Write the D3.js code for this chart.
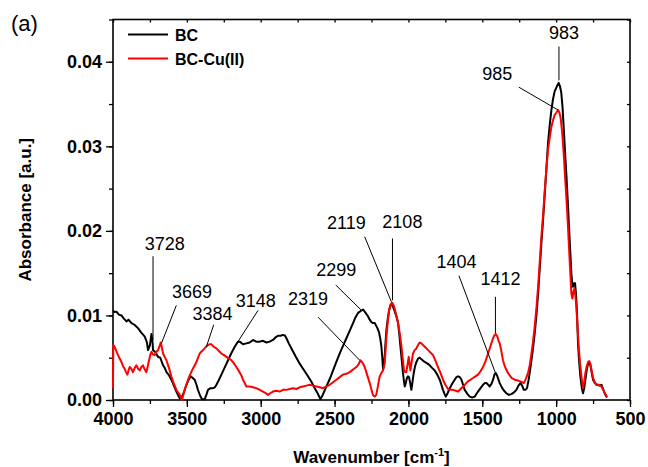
<!DOCTYPE html>
<html>
<head>
<meta charset="utf-8">
<script src="https://cdn.jsdelivr.net/npm/d3@7/dist/d3.min.js"></script>
<style>
  body { margin: 0; background: #fff; }
  svg { font-family: Arial, "Liberation Sans", sans-serif; }
</style>
</head>
<body>
<div id="chart"></div>
<script>
// ---- data ----
var bcWave = [4000,3990,3977,3960,3943,3925,3909,3895,3875,3855,3831,3810,3785,3770,3763,3750,3740,3733,3729,3715,3695,3680,3661,3650,3638,3620,3605,3590,3571,3560,3548,3533,3518,3503,3488,3474,3460,3447,3435,3425,3410,3397,3379,3368,3357,3340,3323,3310,3300,3285,3266,3245,3221,3200,3176,3154,3142,3120,3097,3075,3052,3030,3007,2985,2961,2940,2917,2900,2883,2865,2849,2835,2826,2810,2792,2765,2736,2710,2680,2655,2634,2615,2596,2580,2555,2530,2510,2488,2465,2443,2420,2397,2375,2358,2341,2325,2307,2290,2274,2262,2250,2240,2228,2210,2199,2190,2183,2176,2172,2167,2161,2155,2149,2140,2131,2122,2115,2104,2093,2080,2070,2062,2054,2045,2037,2030,2025,2018,2010,2003,1996,1988,1980,1972,1964,1955,1946,1935,1924,1910,1890,1870,1856,1840,1822,1805,1788,1775,1766,1755,1747,1735,1720,1705,1687,1675,1664,1652,1641,1630,1619,1600,1585,1568,1551,1540,1529,1512,1495,1482,1472,1460,1450,1438,1427,1418,1409,1400,1392,1382,1365,1348,1337,1320,1303,1285,1269,1255,1242,1230,1219,1208,1197,1185,1176,1167,1156,1145,1133,1122,1111,1100,1088,1077,1066,1055,1043,1032,1021,1010,995,983,974,965,957,949,940,930,921,913,905,897,891,886,879,872,867,863,857,852,844,836,827,818,810,802,793,784,776,768,759,750,738,727,715,705,693,682,671,663,656];
var bcAbs = [0.0106,0.0104,0.01045,0.0101,0.0100,0.0096,0.0093,0.0095,0.0091,0.0089,0.0085,0.0080,0.0075,0.0068,0.0059,0.0065,0.0078,0.0070,0.0059,0.0057,0.0051,0.0050,0.0041,0.0038,0.0033,0.0029,0.0024,0.0018,0.0010,0.0006,0.0002,0.0004,0.0010,0.0018,0.0024,0.0028,0.0026,0.0024,0.0018,0.0012,0.0005,0.0001,0.0001,0.0006,0.0012,0.0014,0.0014,0.0015,0.0018,0.0023,0.0030,0.0038,0.0047,0.0055,0.0063,0.0069,0.0069,0.0066,0.0067,0.0068,0.0071,0.0069,0.0069,0.0070,0.0068,0.0069,0.0071,0.0074,0.0076,0.0076,0.0077,0.0076,0.0073,0.0067,0.0061,0.0052,0.0043,0.0036,0.0028,0.0021,0.0014,0.0008,0.0001,0.0006,0.0016,0.0026,0.0035,0.0045,0.0055,0.0064,0.0073,0.0082,0.0091,0.0098,0.0103,0.0105,0.0107,0.0103,0.0099,0.0095,0.0092,0.0091,0.0091,0.0085,0.0080,0.0072,0.0063,0.0048,0.0036,0.0040,0.0051,0.0068,0.0083,0.0096,0.0106,0.0112,0.0114,0.0110,0.0105,0.0098,0.0091,0.0078,0.0063,0.0047,0.0032,0.0022,0.0016,0.0020,0.0026,0.0028,0.0027,0.0020,0.0012,0.0022,0.0032,0.0040,0.0045,0.0049,0.0050,0.0048,0.0045,0.0043,0.0041,0.0038,0.0035,0.0030,0.0024,0.0017,0.0012,0.0007,0.0004,0.0008,0.0014,0.0019,0.0024,0.0027,0.0028,0.0027,0.0024,0.0018,0.0012,0.0007,0.0004,0.0003,0.0004,0.0007,0.0010,0.0014,0.0018,0.0020,0.0020,0.0018,0.0016,0.0019,0.0024,0.0030,0.0032,0.0029,0.0025,0.0020,0.0014,0.0010,0.0008,0.0006,0.0007,0.0009,0.0012,0.0017,0.0020,0.0017,0.0012,0.0012,0.0014,0.0025,0.0036,0.0047,0.0062,0.0079,0.0101,0.0126,0.0155,0.0185,0.0214,0.0244,0.0274,0.0304,0.0326,0.0343,0.0356,0.0365,0.0371,0.0375,0.0371,0.0363,0.0347,0.0323,0.0294,0.0264,0.0234,0.0205,0.0177,0.0150,0.0138,0.0134,0.0138,0.0138,0.0128,0.0118,0.0095,0.0067,0.0045,0.0028,0.0015,0.0008,0.0014,0.0024,0.0035,0.0043,0.0044,0.0041,0.0032,0.0024,0.0020,0.0018,0.0018,0.0017,0.0018,0.0013,0.0008,0.0005,0.0003];

var cuWave = [4000,3998,3989,3978,3966,3955,3943,3932,3921,3912,3903,3895,3887,3876,3865,3853,3842,3830,3819,3808,3797,3785,3774,3765,3756,3748,3740,3729,3718,3706,3695,3686,3677,3669,3661,3650,3638,3627,3616,3605,3594,3582,3571,3560,3548,3540,3533,3524,3515,3503,3492,3478,3465,3450,3435,3424,3413,3402,3391,3375,3357,3345,3334,3318,3300,3283,3266,3249,3232,3215,3198,3180,3165,3150,3131,3120,3108,3097,3075,3052,3030,3007,2985,2965,2951,2935,2917,2895,2872,2849,2826,2803,2781,2758,2736,2713,2690,2668,2645,2623,2600,2578,2555,2533,2510,2488,2465,2443,2420,2397,2375,2352,2338,2325,2310,2296,2280,2262,2250,2240,2228,2218,2208,2199,2194,2183,2172,2161,2155,2149,2140,2131,2120,2110,2100,2093,2082,2070,2058,2047,2038,2030,2022,2014,2006,1998,1992,1987,1978,1969,1958,1946,1935,1924,1912,1901,1884,1867,1850,1833,1816,1800,1783,1766,1750,1732,1715,1698,1680,1664,1647,1630,1613,1597,1580,1563,1546,1529,1512,1495,1478,1461,1446,1431,1420,1409,1398,1390,1382,1370,1360,1348,1340,1326,1314,1300,1280,1260,1242,1230,1219,1205,1190,1178,1167,1156,1145,1133,1122,1111,1100,1088,1077,1066,1055,1043,1032,1021,1010,998,987,978,969,959,949,940,930,921,913,905,897,890,883,876,870,863,855,847,838,829,823,818,810,802,793,784,776,768,759,750,738,727,715,705,693,682,671,663,656];
var cuAbs = [0.0014,0.0065,0.0063,0.0058,0.0053,0.0049,0.0045,0.0040,0.0037,0.0033,0.0030,0.0035,0.0039,0.0037,0.0033,0.0038,0.0041,0.0037,0.0035,0.0039,0.0041,0.0036,0.0033,0.0040,0.0047,0.0053,0.0057,0.0054,0.0053,0.0057,0.0059,0.0063,0.0068,0.0062,0.0055,0.0051,0.0047,0.0041,0.0035,0.0028,0.0022,0.0017,0.0012,0.0009,0.0006,0.0003,0.0000,0.0006,0.0012,0.0018,0.0024,0.0030,0.0035,0.0040,0.0045,0.0050,0.0055,0.0057,0.0059,0.0062,0.0065,0.0066,0.0066,0.0063,0.0061,0.0058,0.0055,0.0053,0.0051,0.0049,0.0047,0.0043,0.0039,0.0035,0.0029,0.0024,0.0020,0.0016,0.0016,0.0015,0.0014,0.0012,0.0010,0.0008,0.0006,0.0008,0.0010,0.0011,0.0010,0.0012,0.0012,0.0013,0.0014,0.0013,0.0015,0.0016,0.0017,0.0018,0.0017,0.0016,0.0015,0.0014,0.0016,0.0018,0.0021,0.0024,0.0027,0.0030,0.0031,0.0033,0.0036,0.0039,0.0042,0.0047,0.0044,0.0039,0.0030,0.0020,0.0012,0.0006,0.0004,0.0006,0.0015,0.0024,0.0028,0.0032,0.0035,0.0043,0.0058,0.0075,0.0092,0.0106,0.0113,0.0115,0.0112,0.0108,0.0100,0.0091,0.0078,0.0063,0.0048,0.0035,0.0033,0.0033,0.0042,0.0051,0.0042,0.0035,0.0045,0.0055,0.0059,0.0061,0.0065,0.0068,0.0067,0.0065,0.0062,0.0059,0.0056,0.0053,0.0046,0.0039,0.0032,0.0024,0.0018,0.0013,0.0012,0.0012,0.0011,0.0010,0.0013,0.0016,0.0019,0.0022,0.0024,0.0026,0.0028,0.0030,0.0034,0.0039,0.0046,0.0055,0.0063,0.0071,0.0076,0.0078,0.0075,0.0070,0.0067,0.0057,0.0047,0.0040,0.0037,0.0032,0.0029,0.0026,0.0024,0.0023,0.0022,0.0021,0.0020,0.0025,0.0032,0.0042,0.0055,0.0070,0.0087,0.0110,0.0134,0.0163,0.0193,0.0220,0.0248,0.0273,0.0296,0.0311,0.0323,0.0331,0.0337,0.0340,0.0343,0.0340,0.0333,0.0316,0.0292,0.0265,0.0237,0.0209,0.0181,0.0153,0.0126,0.0120,0.0128,0.0132,0.0124,0.0110,0.0085,0.0063,0.0043,0.0028,0.0020,0.0014,0.0022,0.0032,0.0040,0.0045,0.0046,0.0043,0.0034,0.0026,0.0021,0.0018,0.0018,0.0017,0.0016,0.0012,0.0008,0.0006,0.0004];

var xTicks = [4000, 3500, 3000, 2500, 2000, 1500, 1000, 500];
var yTicks = [0, 0.01, 0.02, 0.03, 0.04];
var seriesNames = ["BC", "BC-Cu(II)"];
var seriesColors = ["#000000", "#ff0000"];

// peak labels: text, label pos (wavenumber, abs), leader line from -> to
var peakText = ["983", "985", "3728", "3669", "3384", "3148", "2319", "2299", "2119", "2108", "1404", "1412"];
var peakLabelW = [947, 1398, 3650, 3465, 3327, 3034, 2680, 2488, 2420, 2041, 1675, 1377];
var peakLabelA = [0.0435, 0.0386, 0.0185, 0.0128, 0.01025, 0.0118, 0.0120, 0.0154, 0.0210, 0.0211, 0.0164, 0.0144];
var peakLine = [
  [981, 0.0418, 981, 0.0378],
  [1253, 0.0370, 987, 0.0343],
  [3729, 0.0170, 3729, 0.0071],
  [3571, 0.0112, 3672, 0.0067],
  [3318, 0.0089, 3368, 0.0063],
  [3018, 0.0106, 3154, 0.0069],
  [2612, 0.0098, 2330, 0.0047],
  [2492, 0.0136, 2318, 0.0106],
  [2296, 0.0193, 2115, 0.0116],
  [2108, 0.0191, 2108, 0.0118],
  [1658, 0.0147, 1411, 0.0032],
  [1411, 0.0122, 1411, 0.0079]
];

var margin = {top: 19.5, right: 18, bottom: 67, left: 113};
var W = 648, H = 467;
var width = W - margin.left - margin.right;
var height = H - margin.top - margin.bottom;

var svg = d3.select("#chart").append("svg")
    .attr("width", W)
    .attr("height", H);

var g = svg.append("g")
    .attr("transform", "translate(" + margin.left + "," + margin.top + ")");

var xScale = d3.scaleLinear().domain([4000, 500]).range([0, width]);
var yScale = d3.scaleLinear().domain([0, 0.045]).range([height, 0]);

var xMinor = d3.range(4000, 499, -250);
var yMinor = d3.range(0, 0.0451, 0.005);

// minor ticks (outer)
g.append("g")
    .attr("transform", "translate(0," + height + ")")
    .call(d3.axisBottom(xScale).tickValues(xMinor).tickSize(4).tickFormat(""))
    .call(function(a) { a.select(".domain").remove(); });
g.append("g")
    .call(d3.axisLeft(yScale).tickValues(yMinor).tickSize(4).tickFormat(""))
    .call(function(a) { a.select(".domain").remove(); });

// top / right inner ticks
g.append("g")
    .call(d3.axisBottom(xScale).tickValues(xMinor).tickSize(3).tickFormat(""))
    .call(function(a) { a.select(".domain").remove(); });
g.append("g")
    .attr("transform", "translate(" + width + ",0)")
    .call(d3.axisLeft(yScale).tickValues(yMinor).tickSize(3).tickFormat(""))
    .call(function(a) { a.select(".domain").remove(); });

// major axes
g.append("g")
    .attr("transform", "translate(0," + height + ")")
    .call(d3.axisBottom(xScale).tickValues(xTicks).tickSize(7).tickSizeOuter(0).tickPadding(5)
        .tickFormat(d3.format("d")));
g.append("g")
    .call(d3.axisLeft(yScale).tickValues(yTicks).tickSize(7).tickSizeOuter(0).tickPadding(4)
        .tickFormat(d3.format(".2f")));

g.selectAll(".tick line").attr("stroke", "#000").attr("stroke-width", 1.3);
g.selectAll(".domain").remove();
g.selectAll(".tick text")
    .attr("font-family", "Arial, 'Liberation Sans', sans-serif")
    .style("font-size", "18px")
    .style("font-weight", "bold")
    .attr("fill", "#000");

// frame
g.append("rect")
    .attr("x", 0).attr("y", 0)
    .attr("width", width).attr("height", height)
    .attr("fill", "none")
    .attr("stroke", "#000")
    .attr("stroke-width", 1.6);

// spectra
var line = d3.line()
    .x(function(d) { return xScale(d[0]); })
    .y(function(d) { return yScale(d[1]); });

var bcData = bcWave.map(function(w, i) { return [w, bcAbs[i]]; });
var cuData = cuWave.map(function(w, i) { return [w, cuAbs[i]]; });

g.append("path")
    .datum(bcData)
    .attr("d", line)
    .attr("fill", "none")
    .attr("stroke", seriesColors[0])
    .attr("stroke-width", 2)
    .attr("stroke-linejoin", "round");

g.append("path")
    .datum(cuData)
    .attr("d", line)
    .attr("fill", "none")
    .attr("stroke", seriesColors[1])
    .attr("stroke-width", 2)
    .attr("stroke-linejoin", "round");

// peak annotations
peakText.forEach(function(t, i) {
    var l = peakLine[i];
    g.append("line")
        .attr("x1", xScale(l[0])).attr("y1", yScale(l[1]))
        .attr("x2", xScale(l[2])).attr("y2", yScale(l[3]))
        .attr("stroke", "#000")
        .attr("stroke-width", 1);
    g.append("text")
        .attr("x", xScale(peakLabelW[i]))
        .attr("y", yScale(peakLabelA[i]) + 6.5)
        .style("font-size", "18px")
        .style("text-anchor", "middle")
        .text(t);
});

// legend
seriesNames.forEach(function(n, i) {
    var ly = 15 + i * 24;
    g.append("line")
        .attr("x1", 15).attr("x2", 55)
        .attr("y1", ly).attr("y2", ly)
        .attr("stroke", seriesColors[i])
        .attr("stroke-width", 2);
    g.append("text")
        .attr("x", 62)
        .attr("y", ly + 6)
        .style("font-size", "16px")
        .style("font-weight", "bold")
        .text(n);
});

// axis titles
svg.append("text")
    .attr("transform", "translate(31," + (margin.top + height / 2) + ") rotate(-90)")
    .style("font-size", "17px")
    .style("font-weight", "bold")
    .style("text-anchor", "middle")
    .text("Absorbance [a.u.]");

var xt = svg.append("text")
    .attr("x", margin.left + width / 2)
    .attr("y", 463)
    .style("font-size", "17px")
    .style("font-weight", "bold")
    .style("text-anchor", "middle");
xt.append("tspan").text("Wavenumber [cm");
xt.append("tspan").attr("dy", -7).style("font-size", "11px").text("-1");
xt.append("tspan").attr("dy", 7).text("]");

svg.append("text")
    .attr("x", 11)
    .attr("y", 31)
    .style("font-size", "22px")
    .text("(a)");
</script>
</body>
</html>
